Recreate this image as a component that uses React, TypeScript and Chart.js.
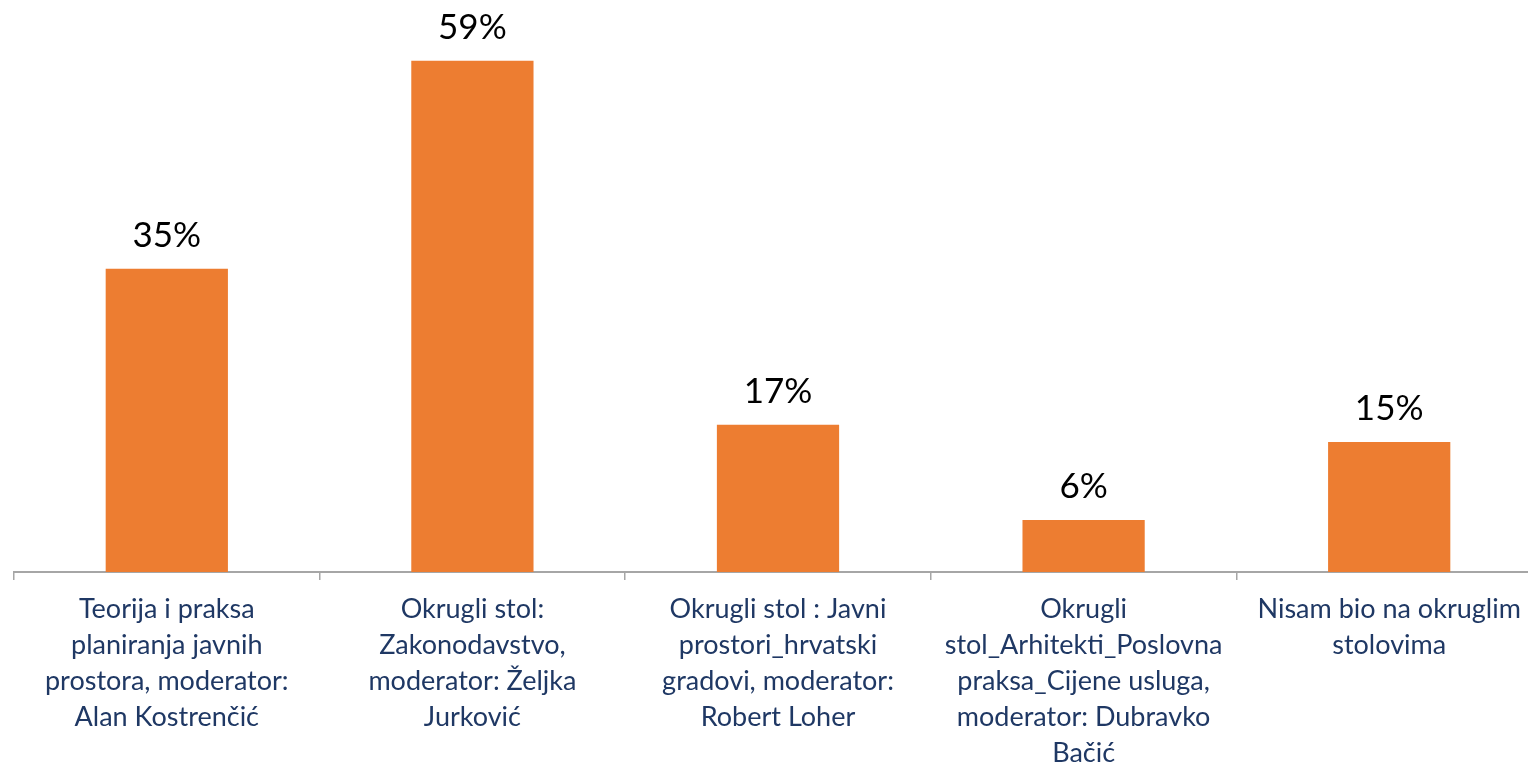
import React, { useEffect, useRef } from "react";
import { Chart, registerables } from "chart.js";

Chart.register(...registerables);

const categories: string[][] = [
  ["Teorija i praksa", "planiranja javnih", "prostora, moderator:", "Alan Kostrenčić"],
  ["Okrugli stol:", "Zakonodavstvo,", "moderator: Željka", "Jurković"],
  ["Okrugli stol : Javni", "prostori_hrvatski", "gradovi, moderator:", "Robert Loher"],
  ["Okrugli", "stol_Arhitekti_Poslovna", "praksa_Cijene usluga,", "moderator: Dubravko", "Bačić"],
  ["Nisam bio na okruglim", "stolovima"],
];
const values: number[] = [35, 59, 17, 6, 15];

const FONT = "Lato";

const labelPlugin = {
  id: "valueLabels",
  afterDatasetsDraw(chart: any) {
    const ctx = chart.ctx;
    const meta = chart.getDatasetMeta(0);
    ctx.save();
    ctx.font = `35px ${FONT}`;
    ctx.fillStyle = "#000000";
    ctx.textAlign = "center";
    ctx.textBaseline = "alphabetic";
    meta.data.forEach((bar: any, i: number) => {
      ctx.fillText(`${values[i]}%`, bar.x, bar.y - 22);
    });
    ctx.restore();
  },
};

export default function App() {
  const ref = useRef<HTMLCanvasElement | null>(null);
  useEffect(() => {
    if (!ref.current) return;
    const chart = new Chart(ref.current, {
      type: "bar",
      data: {
        labels: categories,
        datasets: [
          {
            data: values,
            backgroundColor: "#ED7D31",
            barPercentage: 0.4,
            categoryPercentage: 1,
          },
        ],
      },
      options: {
        responsive: false,
        animation: false,
        layout: { padding: { left: 14, right: 18, top: 52, bottom: 0 } },
        plugins: { legend: { display: false }, tooltip: { enabled: false } },
        scales: {
          x: {
            grid: {
              display: true,
              drawOnChartArea: false,
              drawTicks: true,
              tickLength: 8,
              color: "#a6a6a6",
              lineWidth: 1.5,
            },
            border: { display: true, color: "#a6a6a6", width: 2 },
            ticks: {
              color: "#1F3864",
              font: { family: FONT, size: 27, lineHeight: "36px" as any },
              padding: 11,
              maxRotation: 0,
              autoSkip: false,
            },
          },
          y: { display: false, min: 0, max: 60 },
        },
      },
      plugins: [labelPlugin],
    });
    return () => chart.destroy();
  }, []);
  return (
    <div style={{ position: "absolute", left: 0, top: 0, width: 1528, height: 763, overflow: "hidden", background: "#fff" }}>
      <canvas ref={ref} width={1560} height={782} style={{ display: "block" }} />
    </div>
  );
}
